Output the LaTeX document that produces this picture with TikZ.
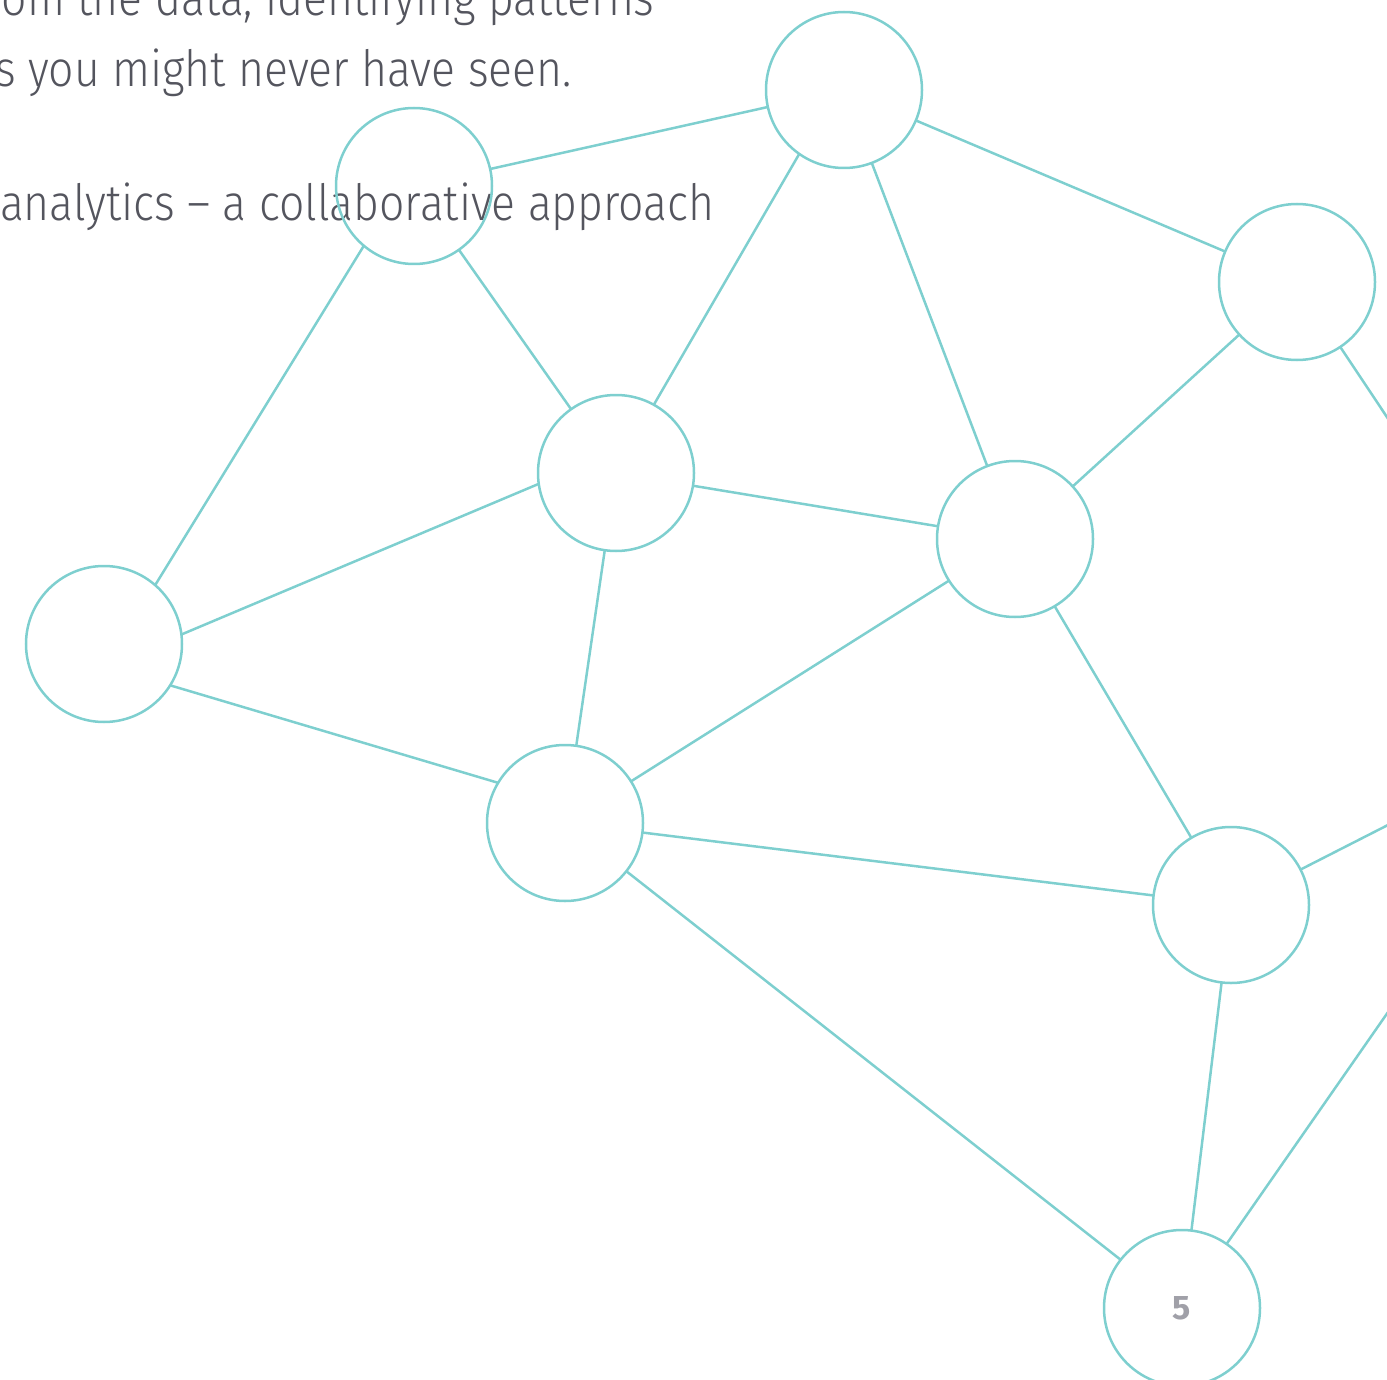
\documentclass[tikz,border=0pt]{standalone}
\usepackage{fontspec}
\newfontfamily\bodyfont{Fira Sans Light}
\newfontfamily\numfont{Fira Sans}
\definecolor{netteal}{RGB}{126,207,207}
\definecolor{bodygray}{RGB}{84,85,94}
\definecolor{numgray}{RGB}{160,160,168}
\newcommand{\bodyline}[1]{\scalebox{0.89}[1]{#1}}
\begin{document}
\begin{tikzpicture}[x=0.5pt,y=-0.5pt,
  hub/.style={circle,draw=netteal,line width=1.25pt,minimum size=78pt,inner sep=0pt,outer sep=0pt},
  link/.style={draw=netteal,line width=1.25pt},
  bodytext/.style={anchor=base east,inner sep=0pt,text=bodygray,font=\bodyfont\fontsize{25}{30}\selectfont}]
\useasboundingbox (0,0) rectangle (1387,1380);
\clip (0,0) rectangle (1387,1380);

% paragraph text behind the network
\node[bodytext] (t1) at (655,16) {\bodyline{om the data, identifying patterns}};
\node[bodytext] (t2) at (572,87) {\bodyline{s you might never have seen.}};
\node[bodytext] (t3) at (715,221) {\bodyline{analytics – a collaborative approach}};

% network nodes
\node[hub] (a) at (844,90) {};
\node[hub] (b) at (414,186) {};
\node[hub] (c) at (1297,282) {};
\node[hub] (d) at (616,473) {};
\node[hub] (e) at (1015,539) {};
\node[hub] (f) at (104,644) {};
\node[hub] (g) at (565,823) {};
\node[hub] (h) at (1231,905) {};
\node[hub] (i) at (1182,1308) {};
\coordinate (j) at (1590,722);
\node[text=numgray,font=\numfont\bfseries\fontsize{17}{20}\selectfont] (pg) at (i) {5};

% connections between neighbouring nodes
\foreach \u/\v in {b/a,a/c,a/e,b/d,d/e,d/g,e/c,e/g,e/h,g/h,g/i,h/i}
  \path[link] (\u) -- (\v);
% connections that leave the circles off their centre line
\path[link] (a.235) -- (d.61);
\path[link] (b.230) -- (f.49);
\path[link] (d.188) -- (f.7);
\path[link] (f.328) -- (g.149);
% connections running off to the right
\foreach \u in {c,h,i}
  \path[link] (\u) -- (j);
\end{tikzpicture}
\end{document}
